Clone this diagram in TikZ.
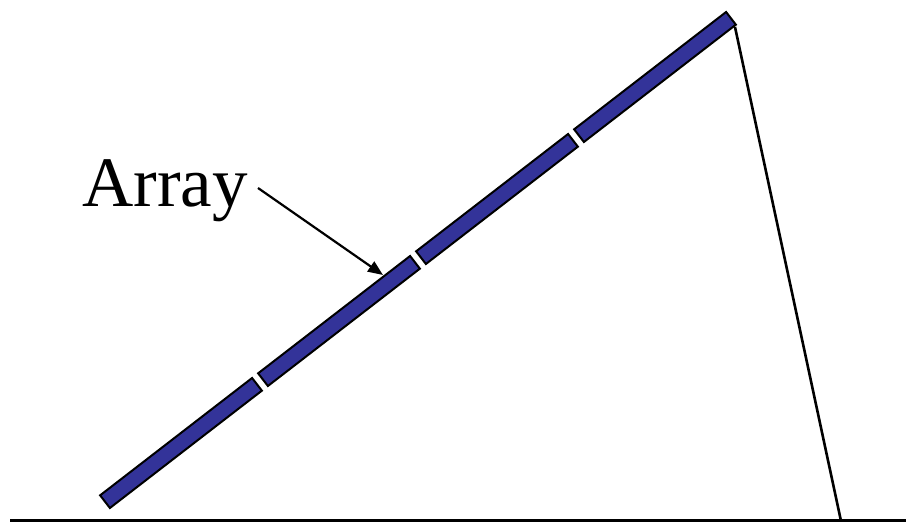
\documentclass[tikz,border=0pt]{standalone}
\usepackage{fontspec}
\setmainfont{Liberation Serif}
\usetikzlibrary{arrows.meta}
\definecolor{panel}{RGB}{51,51,153}
\begin{document}
\begin{tikzpicture}[x=1pt,y=-1pt,
  panelseg/.style={draw=black, fill=panel, line width=2pt, rotate=37.67,
    minimum width=192pt, minimum height=16pt, inner sep=0pt},
  thinline/.style={draw=black, line width=2.6pt},
  pointer/.style={draw=black, line width=2.2pt, -{Triangle[length=15pt,width=12pt]}}]
\useasboundingbox (0,0) rectangle (906,526);
% ground
\coordinate (g1) at (10,521);
\coordinate (g2) at (906,521);
\draw[line width=3pt] (g1) -- (g2);
% array segments
\node[panelseg] (s1) at (181,443) {};
\node[panelseg] (s2) at (339,321) {};
\node[panelseg] (s3) at (497,199) {};
\node[panelseg] (s4) at (655,77) {};
% support
\coordinate (top) at (735,27);
\coordinate (foot) at (841,521);
\draw[thinline] (top) -- (foot);
% label
\node[anchor=base west, inner sep=0pt, font=\fontsize{71}{80}\selectfont] (lbl) at (82,207) {Array};
\coordinate (lblend) at (258,188);
\coordinate (tip) at (383,275);
\draw[pointer] (lblend) -- (tip);
\end{tikzpicture}
\end{document}
